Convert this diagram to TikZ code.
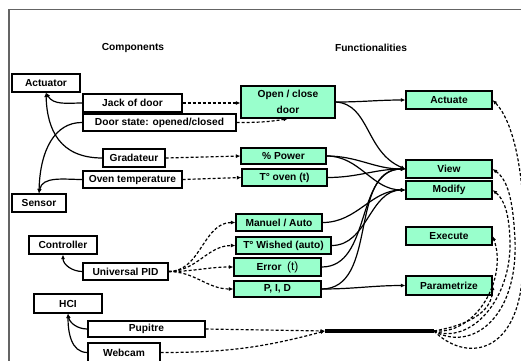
\documentclass[tikz,border=0pt]{standalone}
\usepackage{fontspec}
\setmainfont{Liberation Sans}
\usetikzlibrary{arrows.meta}
\definecolor{mint}{RGB}{153,255,204}
\definecolor{framegray}{RGB}{100,100,100}
\tikzset{
  comp/.style={draw, line width=1.2pt, fill=white, inner sep=0pt, font=\fontsize{10.2}{12}\selectfont\bfseries},
  func/.style={comp, fill=mint},
  sarr/.style={-{Latex[length=4.5pt,width=4pt]}, line width=1.2pt},
  darr/.style={sarr, dash pattern=on 3pt off 2pt},
  ttl/.style={font=\fontsize{10.2}{12}\selectfont\bfseries, inner sep=0pt}
}
\begin{document}
\begin{tikzpicture}[x=1pt,y=-1pt]
\useasboundingbox (0,0) rectangle (521,360);
\clip (0,0) rectangle (521,360);
\fill[white] (0,0) rectangle (521,360);
\draw[framegray, line width=1.5pt] (9,361) -- (9,9.5) -- (522,9.5);

% titles
\node[ttl] (tcomp) at (133,48) {Components};
\node[ttl] (tfunc) at (371,48) {Functionalities};

% components
\node[comp, minimum width=68pt, minimum height=18pt] (actuator) at (46,83) {Actuator};
\node[comp, minimum width=99pt, minimum height=18pt] (jack) at (132.5,103) {Jack of door};
\node[comp, minimum width=153pt, minimum height=17pt] (doorstate) at (159.5,122.5) {Door state: opened/closed};
\node[comp, minimum width=62pt, minimum height=18pt] (gradateur) at (134,158) {Gradateur};
\node[comp, minimum width=99pt, minimum height=17pt] (oventemp) at (132.5,179.5) {Oven temperature};
\node[comp, minimum width=54pt, minimum height=18pt] (sensor) at (39,203) {Sensor};
\node[comp, minimum width=68pt, minimum height=18pt] (controller) at (63,245) {Controller};
\node[comp, minimum width=85pt, minimum height=17pt] (upid) at (125.5,271.5) {Universal PID};
\node[comp, minimum width=68pt, minimum height=19pt] (hci) at (68,303.5) {HCI};
\node[comp, minimum width=117pt, minimum height=16pt] (pupitre) at (146.5,329) {Pupitre};
\node[comp, minimum width=72pt, minimum height=19pt] (webcam) at (124,352.5) {Webcam};

% functionalities
\node[func, minimum width=94pt, minimum height=32pt, align=center] (open) at (288,102) {Open / close\\[4pt]door};
\node[func, minimum width=86pt, minimum height=18pt] (actuate) at (449,100) {Actuate};
\node[func, minimum width=85pt, minimum height=16pt] (power) at (283.5,156) {\% Power};
\node[func, minimum width=85pt, minimum height=17pt] (toven) at (284.5,177.5) {T° oven (t)};
\node[func, minimum width=86pt, minimum height=18pt] (view) at (449,169) {View\hspace{12pt}};
\node[func, minimum width=86pt, minimum height=18pt] (modify) at (449,190) {Modify};
\node[func, minimum width=86pt, minimum height=17pt] (manuel) at (279,222.5) {Manuel / Auto};
\node[func, minimum width=95pt, minimum height=17pt] (twished) at (283.5,245.5) {T° Wished (auto)};
\node[func, minimum width=87pt, minimum height=18pt] (error) at (277.5,267) {Error\ \ {\fontsize{12}{12}\selectfont\mdseries(t)}};
\node[func, minimum width=87pt, minimum height=16pt] (pidf) at (277.5,289) {P, I, D};
\node[func, minimum width=86pt, minimum height=18pt] (execute) at (449,236) {Execute};
\node[func, minimum width=86pt, minimum height=19pt] (param) at (449,285.5) {Parametrize};

% bar
\coordinate (barL) at (325,331);
\coordinate (barR) at (434,331);
\draw[line width=4pt] (barL) -- (barR);

% solid: components to categories
\draw[sarr] (jack.west) to[out=180,in=-60] (actuator.south);
\draw[sarr] (gradateur.west) .. controls (60,158) and (47,130) .. (actuator.south);
\draw[sarr] (doorstate.west) .. controls (55,122) and (40,150) .. (sensor.north);
\draw[sarr] (oventemp.west) to[out=180,in=80] (sensor.north);
\draw[sarr] (upid.west) to[out=180,in=-90] (controller.south);
\draw[sarr] (pupitre.west) to[out=180,in=-80] (hci.south);
\draw[sarr] (webcam.west) to[out=180,in=-90] (hci.south);

% dashed: components to functionalities
\draw[darr] (jack.east) -- (open.west |- jack.east);
\draw[darr] (doorstate.east) to[out=0,in=190] (open.south);
\draw[darr] (gradateur.east) -- (power.west);
\draw[darr] (oventemp.east) -- (toven.west);
\draw[darr] (upid.east) to[out=0,in=180] (manuel.west);
\draw[darr] (upid.east) to[out=0,in=180] (twished.west);
\draw[darr] (upid.east) to[out=0,in=180] (error.west);
\draw[darr] (upid.east) to[out=0,in=180] (pidf.west);
\draw[darr] (pupitre.east) -- (barL);
\draw[darr] (webcam.east) to[out=0,in=195] (barL);

% solid: functionalities to categories
\draw[sarr] (open.east) to[out=0,in=180] (actuate.west);
\draw[sarr] (open.east) .. controls (370,104) and (365,152) .. (view.west);
\draw[sarr] (power.east) to[out=0,in=180] (view.west);
\draw[sarr] (power.east) to[out=0,in=180] (modify.west);
\draw[sarr] (toven.east) to[out=0,in=180] (view.west);
\draw[sarr] (manuel.east) to[out=0,in=180] (modify.west);
\draw[sarr] (twished.east) to[out=0,in=180] (modify.west);
\draw[sarr] (error.east) to[out=0,in=180] (view.west);
\draw[sarr] (pidf.east) to[out=0,in=180] (view.west);
\draw[sarr] (pidf.east) to[out=0,in=180] (param.west);

% dashed: HCI bar to categories
\draw[darr] (barR) to[out=10,in=-90] (param.east);
\draw[darr] (barR) to[out=-5,in=-70] (execute.east);
\draw[darr] (barR) .. controls (470,345) and (512,300) .. (510,240) .. controls (509,215) and (505,200) .. (modify.east);
\draw[darr] (barR) .. controls (470,352) and (518,320) .. (515,240) .. controls (513,200) and (508,180) .. (view.east);
\draw[darr] (barR) .. controls (465,362) and (515,355) .. (522,280) .. controls (528,220) and (522,130) .. (actuate.east);
\end{tikzpicture}
\end{document}
